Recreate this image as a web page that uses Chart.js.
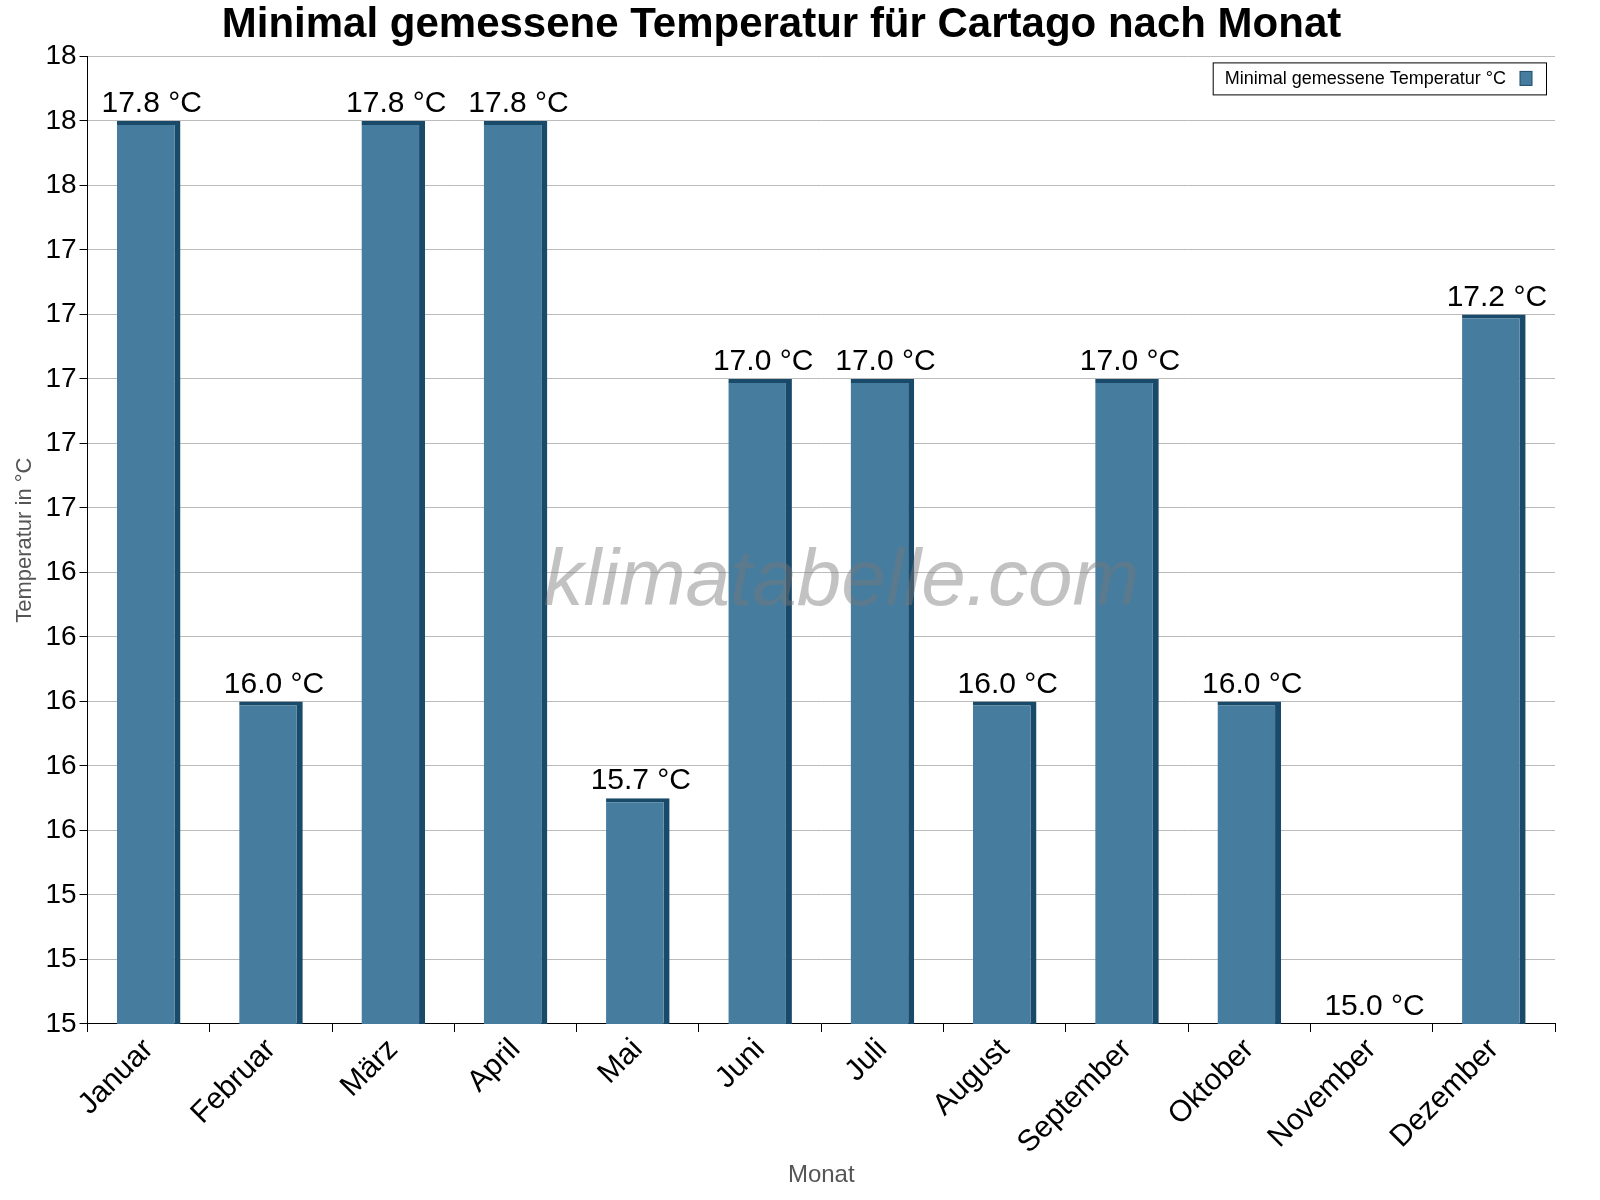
<!DOCTYPE html>
<html><head><meta charset="utf-8">
<script src="https://cdn.jsdelivr.net/npm/chart.js@4/dist/chart.umd.min.js"></script>
<style>html,body{margin:0;background:#fff}#w{width:1600px;height:1200px}</style>
</head><body><div id="w"><canvas id="c"></canvas></div>
<script>
const months=["Januar","Februar","März","April","Mai","Juni","Juli","August","September","Oktober","November","Dezember"];
const minTemp=[17.8,16.0,17.8,17.8,15.7,17.0,17.0,16.0,17.0,16.0,15.0,17.2];
const seriesName="Minimal gemessene Temperatur °C";
const F="Liberation Sans, Arial, sans-serif";
const extras={id:"extras",afterDatasetsDraw(ch){
  const ctx=ch.ctx,ca=ch.chartArea,meta=ch.getDatasetMeta(0);
  ctx.save();
  ctx.font="44px "+F;ctx.fillStyle="#000";ctx.textAlign="center";ctx.textBaseline="bottom";
  ctx.font="30px "+F;
  meta.data.forEach((b,i)=>{ctx.fillText(minTemp[i].toFixed(1)+" °C",b.x+3,b.y-2);});
  ctx.font="italic 80px "+F;ctx.fillStyle="rgba(120,120,120,0.45)";ctx.textBaseline="middle";
  ctx.fillText("klimatabelle.com",(ca.left+ca.right)/2+20,583);
  // legend
  ctx.font="18px "+F;const tw=ctx.measureText(seriesName).width;
  const w=tw+52,h=32,x=ca.right-9-w,y=ca.top+6;
  ctx.fillStyle="#fff";ctx.fillRect(x,y,w,h);ctx.strokeStyle="#000";ctx.lineWidth=1;ctx.strokeRect(x+0.5,y+0.5,w,h);
  ctx.fillStyle="#000";ctx.textAlign="left";ctx.fillText(seriesName,x+12,y+h/2+1);
  ctx.fillStyle="#467c9e";ctx.fillRect(x+w-26,y+9,12,14);ctx.strokeStyle="#1a4a6a";ctx.strokeRect(x+w-26,y+9,12,14);
  ctx.restore();
}};
new Chart(document.getElementById("c"),{type:"bar",
 data:{labels:months,datasets:[{label:seriesName,data:minTemp,backgroundColor:"#467c9e",
  borderColor:"#1a4a6a",borderWidth:{top:4,right:6,left:0,bottom:0},borderSkipped:false,
  barPercentage:0.52,categoryPercentage:1}]},
 options:{responsive:true,maintainAspectRatio:false,animation:false,
  layout:{padding:{left:8,right:45,top:0,bottom:6}},
  plugins:{legend:{display:false},tooltip:{enabled:false},
   title:{display:true,text:"Minimal gemessene Temperatur für Cartago nach Monat",font:{family:F,size:42},color:"#000",padding:{top:0,bottom:6}}},
  scales:{
   x:{grid:{display:true,drawOnChartArea:false,offset:true,color:"#000",tickLength:8},border:{color:"#000"},
    ticks:{maxRotation:45,minRotation:45,font:{family:F,size:30},color:"#000",padding:0},
    title:{display:true,text:"Monat",font:{family:F,size:24},color:"#555",padding:{top:0}}},
   y:{min:15,max:18,border:{color:"#000"},
    grid:{color:"#bbb",lineWidth:1,tickLength:8,tickColor:"#000"},
    ticks:{stepSize:0.2,font:{family:F,size:28},color:"#000",callback:v=>Math.round(v)},
    title:{display:true,text:"Temperatur in °C",font:{family:F,size:22},color:"#555"}}
  }},
 plugins:[extras,{id:"dash",beforeDraw(ch){ch.scales.y.options.grid.borderDash=[2,3];}}]
});
</script></body></html>
